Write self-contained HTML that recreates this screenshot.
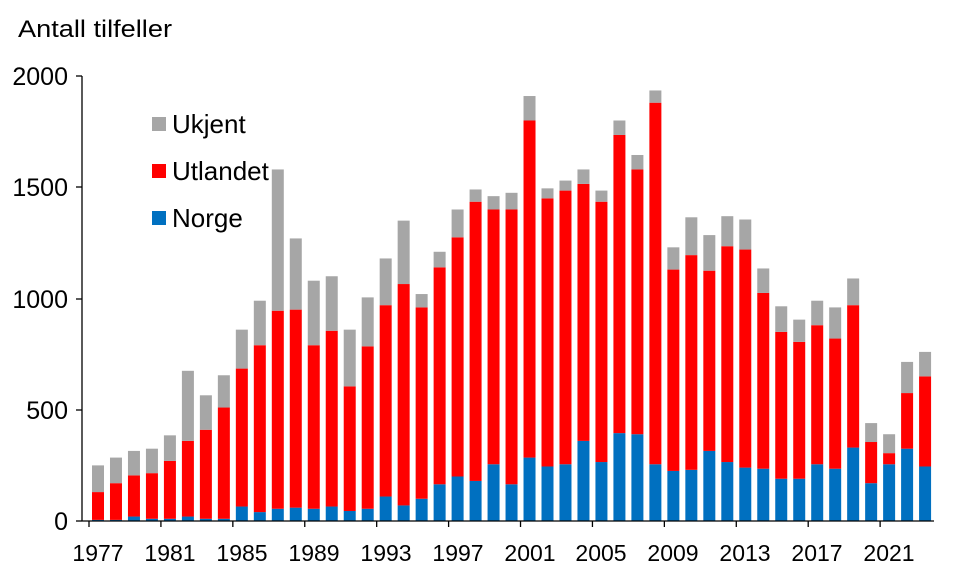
<!DOCTYPE html>
<html><head><meta charset="utf-8"><style>
html,body{margin:0;padding:0;background:#fff;}
svg{display:block;font-family:"Liberation Sans",Arial,sans-serif;}
</style></head><body>
<svg id="c" width="970" height="583" viewBox="0 0 970 583" xmlns="http://www.w3.org/2000/svg">
<rect width="970" height="583" fill="#fff"/>
<text x="18" y="37" font-size="24" fill="#000" textLength="154" lengthAdjust="spacingAndGlyphs">Antall tilfeller</text>
<g font-size="25" fill="#000" text-anchor="end">
<text x="68" y="530">0</text>
<text x="68" y="419">500</text>
<text x="68" y="308">1000</text>
<text x="68" y="196">1500</text>
<text x="68" y="85">2000</text>
</g>
<g font-size="23" fill="#000" text-anchor="middle">
<text x="98" y="561">1977</text>
<text x="170" y="561">1981</text>
<text x="242" y="561">1985</text>
<text x="314" y="561">1989</text>
<text x="386" y="561">1993</text>
<text x="458" y="561">1997</text>
<text x="530" y="561">2001</text>
<text x="601" y="561">2005</text>
<text x="673" y="561">2009</text>
<text x="745" y="561">2013</text>
<text x="817" y="561">2017</text>
<text x="889" y="561">2021</text>
</g>
<g id="bars"></g>
<g stroke="#000" stroke-width="1.3">
<line x1="82" y1="76" x2="82" y2="521"/>
<line x1="82" y1="521" x2="934" y2="521"/>
<line x1="76" y1="521" x2="82" y2="521"/>
<line x1="76" y1="410" x2="82" y2="410"/>
<line x1="76" y1="299" x2="82" y2="299"/>
<line x1="76" y1="187" x2="82" y2="187"/>
<line x1="76" y1="76" x2="82" y2="76"/>
</g>
<g id="xt" stroke="#000" stroke-width="1.3"></g>
<rect x="152" y="117" width="14" height="14" fill="#A6A6A6"/>
<rect x="152" y="164" width="14" height="14" fill="#FF0000"/>
<rect x="152" y="211" width="14" height="14" fill="#0070C0"/>
<g font-size="26" fill="#000">
<text x="172" y="133">Ukjent</text>
<text x="172" y="180">Utlandet</text>
<text x="172" y="227">Norge</text>
</g>
</svg>
<script>
var d=[[5,130,250],[5,170,285],[20,205,315],[10,215,325],[10,270,385],[20,360,675],[10,410,565],[10,510,655],[65,685,860],[40,790,990],[55,945,1580],[60,950,1270],[55,790,1080],[65,855,1100],[45,605,860],[55,785,1005],[110,970,1180],[70,1065,1350],[100,960,1020],[165,1140,1210],[200,1275,1400],[180,1435,1490],[255,1400,1460],[165,1400,1475],[285,1800,1910],[245,1450,1495],[255,1485,1530],[360,1515,1580],[265,1435,1485],[395,1735,1800],[390,1580,1645],[255,1880,1935],[225,1130,1230],[230,1195,1365],[315,1125,1285],[265,1235,1370],[240,1220,1355],[235,1025,1135],[190,850,965],[190,805,905],[255,880,990],[235,820,960],[330,970,1090],[170,355,440],[255,305,390],[325,575,715],[245,650,760]];
var ns="http://www.w3.org/2000/svg",g=document.getElementById("bars"),xt=document.getElementById("xt");
function Y(v){return 521-v*0.2225;}
function r(x,y0,y1,c){var e=document.createElementNS(ns,"rect");e.setAttribute("x",x);e.setAttribute("y",Y(y1));e.setAttribute("width",12);e.setAttribute("height",Math.max(0,Y(y0)-Y(y1)));e.setAttribute("fill",c);g.appendChild(e);}
d.forEach(function(a,i){var cx=98+i*17.98,x=cx-6;r(x,0,a[0],"#0070C0");r(x,a[0],a[1],"#FF0000");r(x,a[1],a[2],"#A6A6A6");
if(i%4==0){var l=document.createElementNS(ns,"line");var tx=cx-9;l.setAttribute("x1",tx);l.setAttribute("x2",tx);l.setAttribute("y1",521);l.setAttribute("y2",527);xt.appendChild(l);}});
</script>
</body></html>
